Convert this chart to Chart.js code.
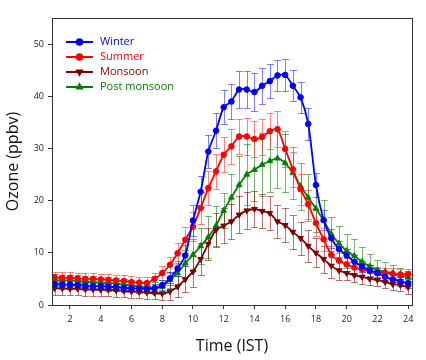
<!DOCTYPE html>
<html>
<head>
<meta charset="utf-8">
<script src="https://cdn.jsdelivr.net/npm/chart.js@4.4.1/dist/chart.umd.min.js"></script>
<style>
  html, body { margin: 0; padding: 0; background: #fff; }
  #wrap { width: 426px; height: 360px; }
</style>
</head>
<body>
<div id="wrap"><canvas id="ozoneChart" width="426" height="360"></canvas></div>
<script>
// Hour of day (IST), half-hourly
const hours = [1, 1.5, 2, 2.5, 3, 3.5, 4, 4.5, 5, 5.5, 6, 6.5, 7, 7.5, 8, 8.5, 9, 9.5, 10, 10.5,
  11, 11.5, 12, 12.5, 13, 13.5, 14, 14.5, 15, 15.5, 16, 16.5, 17, 17.5, 18, 18.5, 19, 19.5, 20, 20.5,
  21, 21.5, 22, 22.5, 23, 23.5, 24];

// Mean ozone (ppbv) per season
const winter = [4.0, 3.9, 3.9, 3.8, 3.7, 3.6, 3.6, 3.5, 3.4, 3.3, 3.2, 3.1, 3.1, 3.2, 3.8, 5.1, 7.0, 9.5, 16.2, 21.7,
  29.4, 33.4, 37.9, 39.0, 41.3, 41.3, 40.8, 42.0, 42.9, 44.0, 44.1, 42.0, 39.8, 34.7, 23.0, 16.3, 12.8, 10.7, 9.5, 8.3,
  7.4, 6.6, 6.1, 5.4, 4.9, 4.5, 4.2];
const summer = [5.3, 5.2, 5.2, 5.1, 5.0, 5.0, 4.9, 4.8, 4.7, 4.6, 4.4, 4.3, 4.2, 5.0, 6.1, 7.7, 9.9, 12.5, 15.0, 18.6,
  22.4, 25.6, 28.8, 30.4, 32.3, 32.3, 31.8, 32.2, 33.3, 33.7, 29.9, 26.0, 22.2, 19.3, 15.7, 12.6, 9.6, 8.5, 7.8, 7.2,
  6.8, 6.5, 6.3, 6.1, 6.0, 5.9, 5.9];
const monsoon = [3.2, 3.2, 3.1, 3.1, 3.0, 3.0, 2.9, 2.9, 2.8, 2.7, 2.6, 2.5, 2.4, 2.3, 2.2, 2.6, 3.5, 4.9, 6.4, 8.8,
  11.7, 14.4, 15.2, 16.0, 17.3, 18.1, 18.4, 18.0, 17.6, 16.0, 15.3, 14.0, 12.8, 11.3, 10.0, 8.8, 7.5, 6.6, 6.1, 5.7,
  5.4, 5.0, 4.8, 4.4, 4.0, 3.8, 3.4];
const postMonsoon = [4.8, 4.7, 4.7, 4.6, 4.5, 4.4, 4.3, 4.2, 4.1, 3.9, 3.7, 3.5, 3.4, 3.3, 3.5, 4.8, 6.1, 8.0, 9.6, 11.3,
  13.0, 15.2, 18.1, 20.6, 23.0, 25.0, 25.9, 26.9, 27.6, 28.1, 27.2, 25.3, 22.8, 20.6, 18.5, 16.2, 13.6, 11.8, 10.4, 9.4,
  8.3, 7.4, 6.7, 6.4, 6.1, 5.6, 5.3];

// Standard deviations (error bar half-lengths)
const winterErr = [0.8, 0.8, 0.8, 0.8, 0.8, 0.8, 0.8, 0.8, 0.8, 0.8, 0.8, 0.8, 0.8, 0.8, 1.0, 1.2, 1.5, 2.0, 3.0, 3.0,
  3.2, 3.3, 3.3, 3.4, 3.6, 3.5, 3.7, 3.5, 3.3, 3.0, 3.0, 3.0, 3.0, 3.0, 2.3, 2.0, 1.8, 1.5, 1.3, 1.2,
  1.1, 1.0, 1.0, 0.9, 0.9, 0.9, 0.9];
const summerErr = [1.1, 1.1, 1.1, 1.1, 1.1, 1.1, 1.1, 1.1, 1.1, 1.1, 1.1, 1.1, 1.1, 1.1, 1.3, 1.5, 2.0, 2.5, 2.8, 3.0,
  3.2, 3.3, 3.4, 3.4, 3.4, 3.5, 3.5, 3.4, 3.4, 3.4, 3.4, 3.3, 3.0, 2.8, 2.5, 2.2, 1.8, 1.5, 1.3, 1.2,
  1.1, 1.1, 1.0, 1.0, 1.0, 1.0, 1.0];
const monsoonErr = [1.2, 1.2, 1.2, 1.2, 1.2, 1.2, 1.2, 1.2, 1.2, 1.2, 1.2, 1.2, 1.2, 1.2, 1.3, 1.6, 2.0, 2.5, 2.9, 3.0,
  3.0, 3.2, 3.3, 3.4, 3.5, 3.5, 3.4, 3.3, 3.2, 3.2, 3.2, 3.2, 3.2, 3.0, 2.8, 2.6, 2.3, 1.8, 1.4, 1.3,
  1.3, 1.2, 1.2, 1.2, 1.2, 1.2, 1.2];
const postMonsoonErr = [1.1, 1.1, 1.1, 1.1, 1.1, 1.1, 1.1, 1.1, 1.1, 1.1, 1.1, 1.1, 1.1, 1.1, 1.3, 1.6, 2.0, 2.6, 3.0, 3.5,
  4.0, 3.8, 3.4, 4.5, 5.5, 5.8, 6.0, 6.0, 5.9, 5.6, 5.5, 5.0, 4.5, 4.5, 4.5, 4.0, 3.2, 3.3, 3.3, 3.3,
  2.9, 2.4, 1.9, 1.8, 1.6, 1.4, 1.3];

// Axis ticks
const xTicks = [2, 4, 6, 8, 10, 12, 14, 16, 18, 20, 22, 24];
const yTicks = [0, 10, 20, 30, 40, 50];

const seriesList = [
  { label: 'Winter', color: '#0000ff', errColor: 'rgba(40,40,255,0.6)', pointStyle: 'circle', rotation: 0, values: winter, errors: winterErr },
  { label: 'Summer', color: '#ff0000', errColor: 'rgba(255,30,30,0.55)', pointStyle: 'circle', rotation: 0, values: summer, errors: summerErr },
  { label: 'Monsoon', color: '#800000', errColor: 'rgba(128,0,0,0.55)', pointStyle: 'triangle', rotation: 180, values: monsoon, errors: monsoonErr },
  { label: 'Post monsoon', color: '#008000', errColor: 'rgba(0,128,0,0.55)', pointStyle: 'triangle', rotation: 0, values: postMonsoon, errors: postMonsoonErr }
];

// Draw vertical error bars with caps underneath the lines
const errorBarPlugin = {
  id: 'errorBars',
  beforeDatasetsDraw(chart) {
    const ctx = chart.ctx;
    const yScale = chart.scales.y;
    const area = chart.chartArea;
    ctx.save();
    ctx.beginPath();
    ctx.rect(area.left, area.top, area.right - area.left, area.bottom - area.top);
    ctx.clip();
    ctx.lineWidth = 1;
    for (let i = chart.data.datasets.length - 1; i >= 0; i--) {
      const ds = chart.data.datasets[i];
      const meta = chart.getDatasetMeta(i);
      ctx.strokeStyle = ds.errorColor;
      meta.data.forEach((pt, j) => {
        const v = ds.data[j].y;
        const e = ds.errors[j];
        const top = Math.round(yScale.getPixelForValue(v + e)) + 0.5;
        const bot = Math.round(yScale.getPixelForValue(v - e)) + 0.5;
        const x = Math.round(pt.x) + 0.5;
        ctx.beginPath();
        ctx.moveTo(x, top);
        ctx.lineTo(x, bot);
        ctx.moveTo(x - 3.5, top);
        ctx.lineTo(x + 3.5, top);
        ctx.moveTo(x - 3.5, bot);
        ctx.lineTo(x + 3.5, bot);
        ctx.stroke();
      });
    }
    ctx.restore();
  }
};

// Box around the plot area plus the legend in the top-left corner
const frameLegendPlugin = {
  id: 'frameLegend',
  afterDraw(chart) {
    const ctx = chart.ctx;
    const area = chart.chartArea;
    ctx.save();
    ctx.strokeStyle = '#333';
    ctx.lineWidth = 1;
    ctx.strokeRect(Math.round(area.left) + 0.5, Math.round(area.top) + 0.5,
      Math.round(area.right - area.left), Math.round(area.bottom - area.top));

    ctx.font = '11px "Open Sans", sans-serif';
    ctx.textBaseline = 'middle';
    chart.data.datasets.forEach((ds, i) => {
      const y = area.top + 24 + i * 15;
      const x0 = area.left + 14;
      ctx.strokeStyle = ds.borderColor;
      ctx.lineWidth = 2;
      ctx.beginPath();
      ctx.moveTo(x0, y);
      ctx.lineTo(x0 + 27, y);
      ctx.stroke();
      ctx.fillStyle = ds.borderColor;
      Chart.helpers.drawPoint(ctx, {
        pointStyle: ds.pointStyle,
        radius: 2.8,
        rotation: ds.pointRotation,
        borderWidth: 1
      }, x0 + 13.5, y);
      ctx.fillStyle = ds.borderColor;
      ctx.fillText(ds.label, x0 + 34, y);
    });
    ctx.restore();
  }
};

function buildDatasets() {
  return seriesList.map(s => ({
    label: s.label,
    data: hours.map((h, i) => ({ x: h, y: s.values[i] })),
    errors: s.errors,
    errorColor: s.errColor,
    borderColor: s.color,
    backgroundColor: s.color,
    pointBackgroundColor: s.color,
    pointBorderColor: s.color,
    pointStyle: s.pointStyle,
    pointRotation: s.rotation,
    pointRadius: s.pointStyle === 'circle' ? 2.8 : 3.3,
    pointBorderWidth: 1,
    borderWidth: 1.8,
    tension: 0.25
  }));
}

const ctx = document.getElementById('ozoneChart').getContext('2d');
const ozoneChart = new Chart(ctx, {
  type: 'line',
  data: { datasets: buildDatasets() },
  options: {
    responsive: false,
    animation: false,
    layout: { padding: { left: 0, top: 18, right: 14, bottom: 0 } },
    plugins: {
      legend: { display: false },
      tooltip: { enabled: false }
    },
    scales: {
      x: {
        type: 'linear',
        min: 0.83,
        max: 24.25,
        afterBuildTicks: scale => { scale.ticks = xTicks.map(v => ({ value: v })); },
        afterFit: scale => { scale.height = 55; },
        grid: { drawOnChartArea: false, drawTicks: true, tickLength: 4, color: '#333' },
        border: { display: true, color: '#333' },
        ticks: { color: '#222', font: { family: 'Open Sans', size: 9 }, padding: 5, maxRotation: 0 },
        title: {
          display: true,
          text: 'Time (IST)',
          color: '#111',
          font: { family: 'Open Sans', size: 16 },
          padding: { top: 6 }
        }
      },
      y: {
        type: 'linear',
        min: 0,
        max: 55,
        afterBuildTicks: scale => { scale.ticks = yTicks.map(v => ({ value: v })); },
        afterFit: scale => { scale.width = 52; },
        grid: { drawOnChartArea: false, drawTicks: true, tickLength: 4, color: '#333' },
        border: { display: true, color: '#333' },
        ticks: { color: '#222', font: { family: 'Open Sans', size: 9 }, padding: 4 },
        title: {
          display: true,
          text: 'Ozone (ppbv)',
          color: '#111',
          font: { family: 'Open Sans', size: 16 },
          padding: { top: 4, bottom: 4 }
        }
      }
    }
  },
  plugins: [errorBarPlugin, frameLegendPlugin]
});
</script>
</body>
</html>
